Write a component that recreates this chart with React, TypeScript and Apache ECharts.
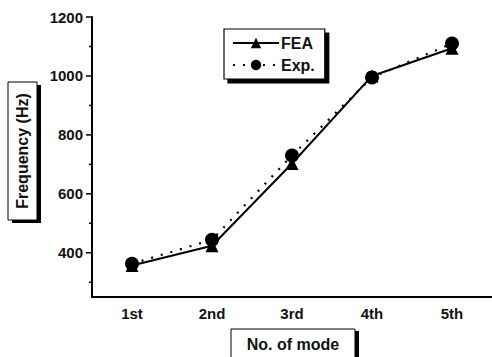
import React, { useEffect, useRef } from "react";
import * as echarts from "echarts";

const modes = ["1st", "2nd", "3rd", "4th", "5th"];
const feaValues = [357, 424, 703, 1000, 1094];
const expValues = [363, 444, 730, 995, 1110];
const yTicks = [400, 600, 800, 1000, 1200];
const yMinorTicks = [300, 500, 700, 900, 1100];

const FONT = "Liberation Sans, Arial, sans-serif";

// A framed caption with a solid drop shadow, drawn as graphic elements
function framedLabel(
  text: string,
  x: number,
  y: number,
  w: number,
  h: number,
  dx: number,
  dy: number,
  rotate = false
) {
  return {
    type: "group",
    silent: true,
    children: [
      { type: "rect", shape: { x: x + dx, y: y + dy, width: w, height: h }, style: { fill: "#000" } },
      {
        type: "rect",
        shape: { x, y, width: w, height: h },
        style: { fill: "#fff", stroke: "#000", lineWidth: 1 },
      },
      {
        type: "text",
        x: x + w / 2,
        y: y + h / 2,
        rotation: rotate ? Math.PI / 2 : 0,
        style: {
          text,
          fontFamily: FONT,
          fontSize: 16,
          fontWeight: "bold",
          fill: "#111",
          align: "center",
          verticalAlign: "middle",
        },
      },
    ],
  };
}

export default function App() {
  const ref = useRef<HTMLDivElement>(null);

  useEffect(() => {
    if (!ref.current) return;
    const chart = echarts.init(ref.current, null, { renderer: "svg" });
    chart.setOption({
      animation: false,
      backgroundColor: "#ffffff",
      grid: { left: 92, right: 0, top: 17, bottom: 60 },
      legend: {
        data: ["FEA", "Exp."],
        orient: "vertical",
        left: 224,
        top: 29,
        itemGap: 6,
        itemWidth: 46,
        itemHeight: 13,
        padding: [6, 10, 6, 8],
        backgroundColor: "#fff",
        borderColor: "#000",
        borderWidth: 1.2,
        borderRadius: 0,
        shadowColor: "#000",
        shadowBlur: 0,
        shadowOffsetX: 4,
        shadowOffsetY: 4,
        textStyle: { fontFamily: FONT, fontSize: 16, fontWeight: "bold", color: "#111", padding: [0, 0, 0, -3] },
      },
      xAxis: {
        type: "category",
        data: modes,
        boundaryGap: true,
        axisLine: { lineStyle: { color: "#000", width: 2 } },
        axisTick: { alignWithLabel: true, length: 5, lineStyle: { color: "#000", width: 1.5 } },
        axisLabel: { fontFamily: FONT, fontSize: 15, fontWeight: "bold", color: "#111", margin: 9 },
        splitLine: { show: false },
      },
      yAxis: {
        type: "value",
        min: 250,
        max: 1200,
        interval: 50,
        axisLine: { show: true, lineStyle: { color: "#000", width: 2 } },
        axisTick: { show: false },
        axisLabel: {
          fontFamily: FONT,
          fontSize: 15,
          fontWeight: "bold",
          color: "#111",
          margin: 9,
          formatter: (v: number) => (yTicks.includes(v) ? String(v) : ""),
        },
        splitLine: { show: false },
      },
      series: [
        {
          name: "FEA",
          type: "line",
          data: feaValues,
          symbol: "triangle",
          symbolSize: 13,
          itemStyle: { color: "#000" },
          lineStyle: { color: "#000", width: 2 },
          z: 3,
        },
        {
          name: "Exp.",
          type: "line",
          data: expValues,
          symbol: "circle",
          symbolSize: 14,
          itemStyle: { color: "#000" },
          lineStyle: { color: "#000", width: 2.2, type: [2, 8] },
          z: 2,
        },
      ],
    });

    // outward value-axis ticks: long at labelled values, short in between
    const tickEls: any[] = [];
    [...yTicks, ...yMinorTicks].forEach((v) => {
      const p = chart.convertToPixel({ gridIndex: 0 } as any, [0, v]) as number[];
      const y = p[1];
      const len = yTicks.includes(v) ? 6 : 3;
      tickEls.push({
        type: "line",
        silent: true,
        shape: { x1: 92 - len, y1: y, x2: 92, y2: y },
        style: { stroke: "#000", lineWidth: 1.5 },
      });
    });

    chart.setOption({
      graphic: [
        ...tickEls,
        framedLabel("Frequency (Hz)", 8, 82, 29, 138, 4, 3, true),
        framedLabel("No. of mode", 231, 329, 124, 30, 4, 2),
      ],
    });

    return () => chart.dispose();
  }, []);

  return (
    <div
      ref={ref}
      style={{ position: "absolute", left: 0, top: 0, width: 492, height: 357 }}
    />
  );
}
